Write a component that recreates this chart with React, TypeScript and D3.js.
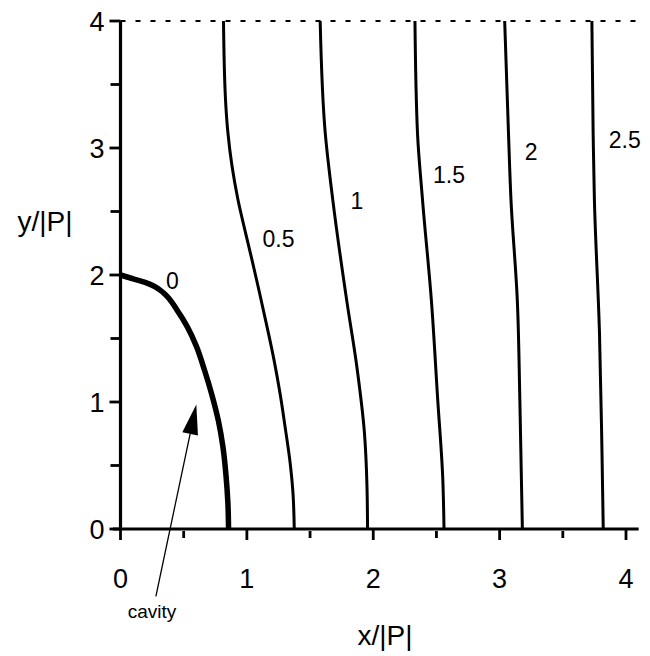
import React from "react";
import * as d3 from "d3";

const W = 650;
const H = 656;

const xTicksMajor = [0, 1, 2, 3, 4];
const xTicksMinor = [0.5, 1.5, 2.5, 3.5];
const yTicksMajor = [0, 1, 2, 3, 4];
const yTicksMinor = [0.5, 1.5, 2.5, 3.5];

// contour lines [x, y] in units of |P|
const c0: [number, number][] = [
  [0, 2.0], [0.1, 1.97], [0.2, 1.94], [0.27, 1.91], [0.34, 1.86], [0.45, 1.72],
  [0.53, 1.59], [0.6, 1.44], [0.665, 1.25], [0.725, 1.05], [0.775, 0.85], [0.81, 0.65],
  [0.835, 0.42], [0.85, 0.2], [0.855, 0],
];
const c05: [number, number][] = [
  [0.815, 4], [0.83, 3.4], [0.85, 3.12], [0.882, 2.86], [0.93, 2.59], [0.99, 2.33],
  [1.045, 2.1], [1.1, 1.86], [1.16, 1.59], [1.215, 1.33], [1.262, 1.07], [1.303, 0.8],
  [1.34, 0.54], [1.365, 0.28], [1.375, 0],
];
const c1: [number, number][] = [
  [1.58, 4], [1.62, 3.12], [1.68, 2.59], [1.79, 1.8], [1.87, 1.28], [1.93, 0.76], [1.95, 0.35], [1.955, 0],
];
const c15: [number, number][] = [
  [2.33, 4], [2.35, 3.12], [2.39, 2.59], [2.46, 1.8], [2.51, 1.02], [2.55, 0.4], [2.56, 0],
];
const c2: [number, number][] = [
  [3.04, 4], [3.07, 3.12], [3.09, 2.59], [3.14, 1.8], [3.16, 1.02], [3.18, 0],
];
const c25: [number, number][] = [
  [3.73, 4], [3.74, 3.12], [3.75, 2.59], [3.79, 1.55], [3.81, 0.6], [3.82, 0],
];

const contours = [
  { name: "0", pts: c0, label: [0.41, 1.95], thick: true },
  { name: "0.5", pts: c05, label: [1.25, 2.28], thick: false },
  { name: "1", pts: c1, label: [1.87, 2.58], thick: false },
  { name: "1.5", pts: c15, label: [2.6, 2.79], thick: false },
  { name: "2", pts: c2, label: [3.25, 2.97], thick: false },
  { name: "2.5", pts: c25, label: [3.99, 3.06], thick: false },
];

const arrowTail: [number, number] = [0.28, -0.53];
const arrowTip: [number, number] = [0.6, 0.98];
const cavityLabel: [number, number] = [0.25, -0.7];

export default function App() {
  const x = d3.scaleLinear().domain([0, 4]).range([120.5, 626]);
  const y = d3.scaleLinear().domain([0, 4]).range([529, 21]);
  const line = d3
    .line<[number, number]>()
    .x((d) => x(d[0]))
    .y((d) => y(d[1]))
    .curve(d3.curveMonotoneY);

  const font = "Liberation Sans, Arial, sans-serif";

  const tx = x(arrowTip[0]);
  const ty = y(arrowTip[1]);
  const sx = x(arrowTail[0]);
  const sy = y(arrowTail[1]);
  const ang = Math.atan2(ty - sy, tx - sx);
  const hl = 30;
  const hw = 8;
  const bx = tx - hl * Math.cos(ang);
  const by = ty - hl * Math.sin(ang);
  const px = -Math.sin(ang);
  const py = Math.cos(ang);
  const head = `M${tx},${ty}L${bx + hw * px},${by + hw * py}L${bx - hw * px},${by - hw * py}Z`;

  const sorted = (pts: [number, number][]) => [...pts].sort((a, b) => y(a[1]) - y(b[1]));

  return (
    <svg width={W} height={H} style={{ display: "block", position: "absolute", left: 0, top: 0, background: "#fff" }}>
      <rect x={0} y={0} width={W} height={H} fill="#fff" />
      <line x1={x(0)} x2={x(4.1)} y1={y(4)} y2={y(4)} stroke="#000" strokeWidth={2} strokeDasharray="5,10" />
      <line x1={x(-0.06)} x2={x(4.1)} y1={y(0)} y2={y(0)} stroke="#000" strokeWidth={2.8} />
      <line x1={x(0)} x2={x(0)} y1={y(0)} y2={y(4)} stroke="#000" strokeWidth={3.2} />
      {xTicksMajor.map((t) => (
        <line key={"xm" + t} x1={x(t)} x2={x(t)} y1={y(0)} y2={y(0) + 11} stroke="#000" strokeWidth={2.8} />
      ))}
      {xTicksMinor.map((t) => (
        <line key={"xn" + t} x1={x(t)} x2={x(t)} y1={y(0) + 2} y2={y(0) + 9} stroke="#000" strokeWidth={2.8} />
      ))}
      {yTicksMajor.map((t) => (
        <line key={"ym" + t} x1={x(0) - 11} x2={x(0)} y1={y(t)} y2={y(t)} stroke="#000" strokeWidth={2.8} />
      ))}
      {yTicksMinor.map((t) => (
        <line key={"yn" + t} x1={x(0) - 10} x2={x(0)} y1={y(t)} y2={y(t)} stroke="#000" strokeWidth={2.8} />
      ))}
      {xTicksMajor.map((t) => (
        <text key={"xl" + t} x={x(t)} y={y(0) + 59} textAnchor="middle" fontFamily={font} fontSize={27}>
          {t}
        </text>
      ))}
      {yTicksMajor.map((t) => (
        <text key={"yl" + t} x={x(0) - 16} y={y(t) + 10} textAnchor="end" fontFamily={font} fontSize={27}>
          {t}
        </text>
      ))}
      <text x={385} y={645} textAnchor="middle" fontFamily={font} fontSize={28}>
        x/|P|
      </text>
      <text x={45} y={231} textAnchor="middle" fontFamily={font} fontSize={28}>
        y/|P|
      </text>
      {contours.map((c) => (
        <path key={c.name} d={line(sorted(c.pts)) || ""} fill="none" stroke="#000" strokeWidth={c.thick ? 5.5 : 3} />
      ))}
      {contours.map((c) => (
        <text key={"l" + c.name} x={x(c.label[0])} y={y(c.label[1]) + 8} textAnchor="middle" fontFamily={font} fontSize={23}>
          {c.name}
        </text>
      ))}
      <line x1={sx} y1={sy} x2={bx} y2={by} stroke="#000" strokeWidth={1.3} />
      <path d={head} fill="#000" />
      <text x={x(cavityLabel[0])} y={y(cavityLabel[1])} textAnchor="middle" fontFamily={font} fontSize={19}>
        cavity
      </text>
    </svg>
  );
}
